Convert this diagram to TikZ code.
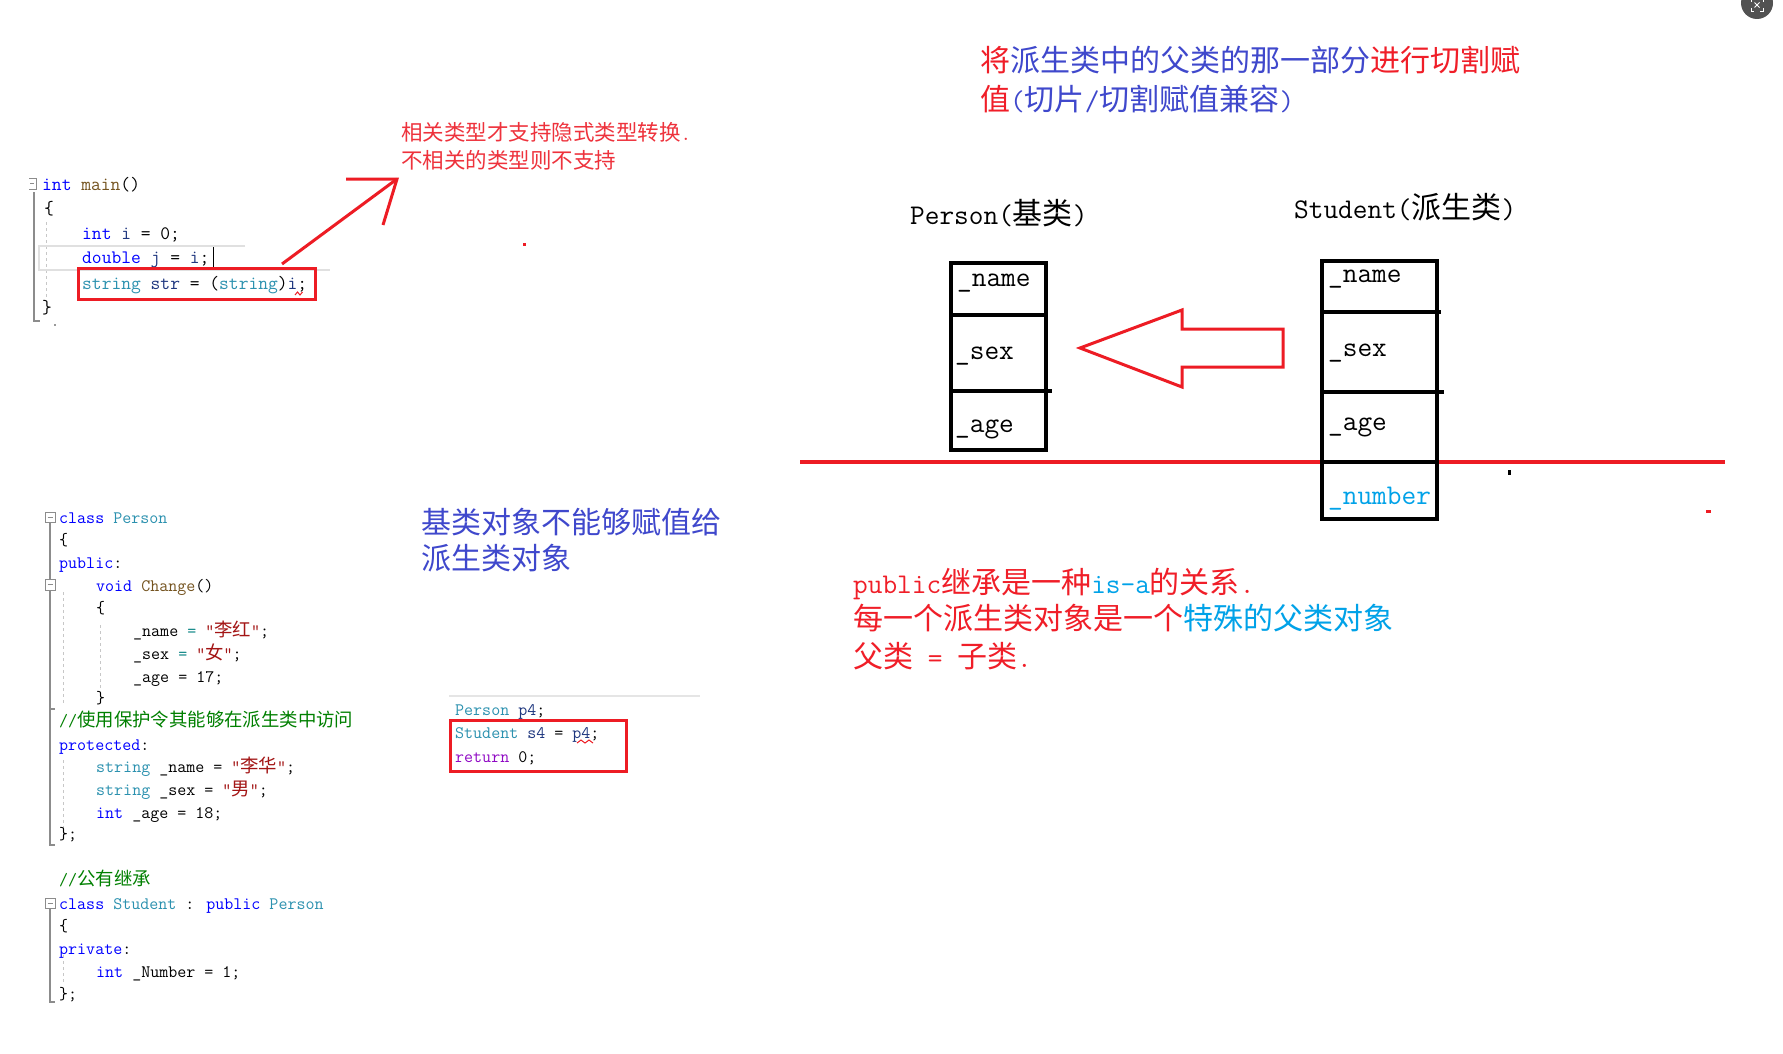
\documentclass[tikz,border=0pt]{standalone}
\usepackage{fontspec}
\newfontfamily\zhfont{Noto Sans CJK SC}
\definecolor{kwblue}{RGB}{0,0,255}
\definecolor{tyteal}{RGB}{43,145,175}
\definecolor{fnbrown}{RGB}{116,83,31}
\definecolor{lvnavy}{RGB}{31,55,127}
\definecolor{strred}{RGB}{163,21,21}
\definecolor{comgreen}{RGB}{0,128,0}
\definecolor{ctlpurple}{RGB}{143,8,196}
\definecolor{opteal}{RGB}{0,128,128}
\definecolor{pred}{RGB}{237,28,36}
\definecolor{tred}{RGB}{240,30,40}
\definecolor{nred}{RGB}{238,50,60}
\definecolor{tblue}{RGB}{63,72,204}
\definecolor{tcyan}{RGB}{0,162,232}
\newcommand\CKw[1]{\textcolor{kwblue}{#1}}
\newcommand\CTy[1]{\textcolor{tyteal}{#1}}
\newcommand\CFn[1]{\textcolor{fnbrown}{#1}}
\newcommand\CLv[1]{\textcolor{lvnavy}{#1}}
\newcommand\CStr[1]{\textcolor{strred}{#1}}
\newcommand\CCom[1]{\textcolor{comgreen}{#1}}
\newcommand\CCtl[1]{\textcolor{ctlpurple}{#1}}
\newcommand\COp[1]{\textcolor{opteal}{#1}}
\newcommand\ZhC[1]{{\zhfont\fontsize{18.4}{20}\selectfont #1}}
\newcommand\Lat[1]{{\ttfamily\fontsize{28.5}{34}\selectfont #1}}
\newcommand\LatS[1]{{\ttfamily\fontsize{20.5}{24}\selectfont #1}}
\begin{document}
\begin{tikzpicture}[x=1pt,y=-1pt,
  codeA/.style={font=\ttfamily\fontsize{19}{22}\selectfont, anchor=base west, inner sep=0pt},
  codeB/.style={font=\ttfamily\fontsize{17.5}{20}\selectfont, anchor=base west, inner sep=0pt},
  zhthirty/.style={font=\zhfont\fontsize{30}{36}\selectfont, anchor=base west, inner sep=0pt},
  zhnote/.style={font=\zhfont\fontsize{21.5}{26}\selectfont, anchor=base west, inner sep=0pt, text=nred},
  fieldlbl/.style={font=\ttfamily\fontsize{28.5}{34}\selectfont, anchor=base west, inner sep=0pt},
  boxline/.style={draw=black, line width=3.3pt},
  redpen/.style={draw=pred, line width=3pt},
  guide/.style={draw=black!22, line width=1pt, dash pattern=on 3pt off 3pt},
  foldbox/.style={draw=black!45, line width=1pt},
  gutter/.style={draw=black!45, line width=1.5pt},
  hilite/.style={draw=black!12, line width=2pt}
]
\fill[white] (0,0) rectangle (1783,1054);
\useasboundingbox (0,0) rectangle (1783,1054);

% ---------------- top-left code ----------------
\draw[foldbox] (29,178) -- (36,178) -- (36,189) -- (29,189);
\draw[foldbox] (30,183.5) -- (34,183.5);
\draw[gutter] (34,192) -- (34,321) -- (40,321);
\draw[guide] (46,222) -- (46,298);
\draw[hilite] (245,246) -- (39,246) -- (39,270) -- (330,270);
\node[codeA] (m1) at (42,190) {\CKw{int} \CFn{main}()};
\node[codeA] (m2) at (44,214) {\{};
\node[codeA] (m3) at (82,239) {\CKw{int} \CLv{i} = 0;};
\node[codeA] (m4) at (82,263) {\CKw{double} \CLv{j} = \CLv{i};};
\node[codeA] (m5) at (82,289) {\CTy{string} \CLv{str} = (\CTy{string})\CLv{i};};
\node[codeA] (m6) at (42,313) {\}};
\draw[black, line width=1pt] (213,247) -- (213,268);
\draw[pred, line width=1pt] (295,295) -- (297.5,292) -- (300,295) -- (302.5,292);
\draw[redpen] (78,268) rectangle (315,299);
\fill[black!40] (54,324) rectangle (56,326);

% arrow to note
\coordinate (arrtail) at (282,264);
\coordinate (arrtip) at (397,179);
\coordinate (armA) at (346,179);
\coordinate (armB) at (383,225);
\draw[redpen] (arrtail) -- (arrtip);
\draw[redpen, line join=miter] (armA) -- (arrtip) -- (armB);
\node[zhnote] (note1) at (401,141) {相关类型才支持隐式类型转换\LatS{.}};
\node[zhnote] (note2) at (401,168) {不相关的类型则不支持};
\fill[pred] (523,243) rectangle (526,246);

% ---------------- bottom-left code ----------------
\draw[foldbox] (45,512) rectangle (55,522); \draw[foldbox] (47.5,517) -- (52.5,517);
\draw[foldbox] (45,579) rectangle (55,590); \draw[foldbox] (47.5,584.5) -- (52.5,584.5);
\draw[foldbox] (45,898) rectangle (55,908); \draw[foldbox] (47.5,903) -- (52.5,903);
\draw[gutter] (50,522) -- (50,579);
\draw[gutter] (50,590) -- (50,709) -- (55,709);
\draw[gutter] (50,709) -- (50,845) -- (55,845);
\draw[gutter] (50,908) -- (50,1002) -- (55,1002);
\draw[guide] (63,592) -- (63,705);
\draw[guide] (63,760) -- (63,835);
\draw[guide] (100,625) -- (100,690);
\draw[guide] (63,955) -- (63,985);

\node[codeB] (b1) at (59,523) {\CKw{class} \CTy{Person}};
\node[codeB] (b2) at (59,545) {\{};
\node[codeB] (b3) at (59,568) {\CKw{public}:};
\node[codeB] (b4) at (96,591) {\CKw{void} \CFn{Change}()};
\node[codeB] (b5) at (96,613) {\{};
\node[codeB] (b6) at (133,636) {\_name \COp{=} \CStr{"\ZhC{李红}"};};
\node[codeB] (b7) at (133,659) {\_sex \COp{=} \CStr{"\ZhC{女}"};};
\node[codeB] (b8) at (133,682) {\_age = 17;};
\node[codeB] (b9) at (96,703) {\}};
\node[codeB] (b10) at (59,726) {\CCom{//\ZhC{使用保护令其能够在派生类中访问}}};
\node[codeB] (b11) at (59,750) {\CKw{protected}:};
\node[codeB] (b12) at (96,772) {\CTy{string} \_name = \CStr{"\ZhC{李华}"};};
\node[codeB] (b13) at (96,795) {\CTy{string} \_sex = \CStr{"\ZhC{男}"};};
\node[codeB] (b14) at (96,818) {\CKw{int} \_age = 18;};
\node[codeB] (b15) at (59,839) {\};};
\node[codeB] (b16) at (59,885) {\CCom{//\ZhC{公有继承}}};
\node[codeB] (b17) at (59,909) {\CKw{class} \CTy{Student} : \CKw{public} \CTy{Person}};
\node[codeB] (b18) at (59,931) {\{};
\node[codeB] (b19) at (59,954) {\CKw{private}:};
\node[codeB] (b20) at (96,977) {\CKw{int} \_Number = 1;};
\node[codeB] (b21) at (59,999) {\};};

% ---------------- middle ----------------
\node[zhthirty, text=tblue] (base1) at (421,533) {基类对象不能够赋值给};
\node[zhthirty, text=tblue] (base2) at (421,569) {派生类对象};
\draw[hilite, draw=black!10] (449,696) -- (700,696);
\node[codeB] (c1) at (455,715) {\CTy{Person} \CLv{p4};};
\node[codeB] (c2) at (455,738) {\CTy{Student} \CLv{s4} = \CLv{p4};};
\node[codeB] (c3) at (455,762) {\CCtl{return} 0;};
\draw[pred, line width=1pt] (577,743) -- (581,740) -- (585,743) -- (589,740) -- (593,743);
\draw[redpen] (450,720) rectangle (626,771);

% ---------------- right ----------------
\node[zhthirty] (title1) at (980,72) {\textcolor{tred}{将}\textcolor{tblue}{派生类中的父类的那一部分}\textcolor{tred}{进行切割赋}};
\node[zhthirty] (title2) at (980,111) {\textcolor{tred}{值}\textcolor{tblue}{\Lat{(}切片\Lat{/}切割赋值兼容\Lat{)}}};

\node[zhthirty] (ptitle) at (910,224) {\Lat{Person(}基类\Lat{)}};
\node[zhthirty] (stitle) at (1294,218) {\Lat{Student(}派生类\Lat{)}};

\draw[pred, line width=3.5pt] (800,462) -- (1725,462);

% Person box
\draw[boxline] (951,263) rectangle (1046,450);
\draw[boxline] (951,315) -- (1046,315);
\draw[boxline] (951,391) -- (1052,391);
\node[fieldlbl] (pname) at (957,286) {\_name};
\node[fieldlbl] (psex) at (955,359) {\_sex};
\node[fieldlbl] (page) at (955,432) {\_age};

% Student box
\draw[boxline] (1322,261) rectangle (1437,519);
\draw[boxline] (1322,312) -- (1441,312);
\draw[boxline] (1322,392) -- (1444,392);
\draw[boxline] (1322,462) -- (1437,462);
\node[fieldlbl] (sname) at (1328,282) {\_name};
\node[fieldlbl] (ssex) at (1328,356) {\_sex};
\node[fieldlbl] (sage) at (1328,430) {\_age};
\node[fieldlbl, text=tcyan] (snum) at (1328,504) {\_number};

% hollow arrow
\draw[redpen, line join=miter] (1080,348) -- (1182,310) -- (1182,329) -- (1283,329) -- (1283,367) -- (1182,367) -- (1182,387) -- cycle;

\fill[black] (1508,470) rectangle (1510.5,475);
\fill[pred] (1706,510) rectangle (1711,513);

% bottom red text
\node[zhthirty, text=tred] (isa1) at (853,593) {\Lat{public}继承是一种\textcolor{tcyan}{\Lat{is-a}}的关系\Lat{.}};
\node[zhthirty, text=tred] (isa2) at (853,629) {每一个派生类对象是一个\textcolor{tcyan}{特殊的父类对象}};
\node[zhthirty, text=tred] (isa3) at (853,667) {父类\Lat{ = }子类\Lat{.}};

% corner icon
\fill[black!68] (1757,3) circle (16);
\draw[white, line width=0.8pt] (1751,2) -- (1751,0);
\draw[white, line width=0.8pt] (1751,8) -- (1751,11) -- (1754,11);
\draw[white, line width=0.8pt] (1763,8) -- (1763,11) -- (1760,11);
\draw[white, line width=0.8pt] (1763,2) -- (1763,0);
\draw[white, line width=0.8pt] (1754.5,2.5) -- (1759.5,7.5) (1754.5,7.5) -- (1759.5,2.5);
\end{tikzpicture}
\end{document}
